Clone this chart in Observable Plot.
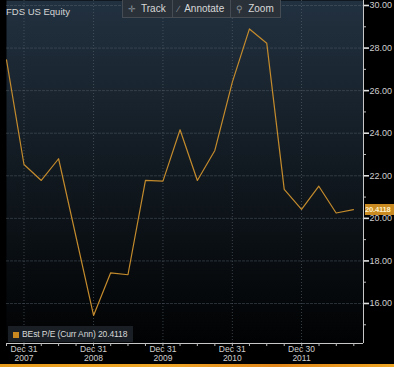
<!DOCTYPE html>
<html><head><meta charset="utf-8">
<script src="https://cdn.jsdelivr.net/npm/d3@7"></script>
<script src="https://cdn.jsdelivr.net/npm/@observablehq/plot@0.6"></script>
<style>
html,body{margin:0;padding:0;background:#000;}
#wrap{position:relative;width:394px;height:367px;overflow:hidden;background:#000;font-family:"Liberation Sans",Arial,sans-serif;}
#wrap svg{position:absolute;left:0;top:0;}
.ov{position:absolute;white-space:nowrap;}
#title{left:6px;top:6px;font-size:9.5px;color:#d4d4d4;}
#toolbar{left:122px;top:-1px;height:17px;display:flex;gap:1px;background:#454c54;border:1px solid #454c54;}
#toolbar div{background:#2a3139;color:#d8d8d8;font-size:10px;line-height:17px;padding:0 6px 0 5px;}
#toolbar span{color:#8c939b;margin-right:5px;font-size:9px;}
#legend{left:8px;top:326px;width:125px;height:16px;background:#1a1f25;font-size:8.5px;color:#d8d8d8;line-height:16px;letter-spacing:-0.1px;}
#legend i{display:inline-block;width:6px;height:6px;background:#c8871f;margin:0 3px 0 5px;vertical-align:-0.5px;}
#strip{left:0;top:364px;width:394px;height:3px;background:linear-gradient(90deg,#e79b1c,#f0a828 40%,#e1861a 70%,#eea524);}
#lastlab{left:365px;width:29px;height:11px;background:#c98a22;color:#fff1c8;font-size:7.6px;font-weight:bold;line-height:11px;padding-left:0px;letter-spacing:-0.2px;overflow:hidden;}
</style></head><body><div id="wrap"></div>
<script>
const dates = ["2007-09-30","2007-12-31","2008-03-31","2008-06-30","2008-12-31","2009-03-31","2009-06-30","2009-09-30","2009-12-31","2010-03-31","2010-06-30","2010-09-30","2010-12-31","2011-03-31","2011-06-30","2011-09-30","2011-12-30","2012-03-30","2012-06-29","2012-09-28"];
const values = [27.45,22.53,21.78,22.80,15.44,17.44,17.35,21.78,21.75,24.16,21.78,23.19,26.40,28.90,28.23,21.36,20.42,21.51,20.25,20.4118];
const yMajorTicks = [16,18,20,22,24,26,28,30];
const yMinorTicks = [15,17,19,21,23,25,27,29];
const xLabelDates = ["2007-12-31","2008-12-31","2009-12-31","2010-12-31","2011-12-30"];
const xLabelTexts = ["Dec 31\n2007","Dec 31\n2008","Dec 31\n2009","Dec 31\n2010","Dec 30\n2011"];
const xDomain = ["2007-09-30","2012-11-20"];
const yDomain = [14.12, 30.235];
const titleText = "FDS US Equity";
const seriesName = "BEst P/E (Curr Ann)";
const lastValue = 20.4118;
const toolbarItems = [["\u271B","Track"],["\u2215","Annotate"],["\u26B2","Zoom"]];

const data = dates.map((d,i)=>({date:new Date(d), value:values[i]}));
const xd = xDomain.map(d=>new Date(d));
const quarterTicks = d3.utcMonth.range(new Date("2007-10-01"), new Date("2012-11-01"), 3).map(d=>d3.utcDay.offset(d,-1));

const plot = Plot.plot({
  width: 394, height: 367,
  marginLeft: 6, marginRight: 31, marginTop: 0, marginBottom: 24,
  style: {background:"transparent", fontFamily:"'Liberation Sans',Arial,sans-serif", color:"#d0d0d0", overflow:"visible"},
  x: {type:"utc", domain: xd, axis: null},
  y: {domain: yDomain, axis: null},
  marks: [
    Plot.frame({fill:"url(#bg)", stroke:null}),
    Plot.gridY(yMajorTicks, {stroke:"#56616c", strokeOpacity:0.45, strokeDasharray:"3,1"}),
    Plot.gridX(xLabelDates.map(d=>new Date(d)), {stroke:"#5a6570", strokeOpacity:0.6, strokeDasharray:"1,2"}),
    Plot.line(data, {x:"date", y:"value", stroke:"#c48b2c", strokeWidth:1.2}),
    Plot.ruleX([xd[1]], {stroke:"#c8c8c8"}),
    Plot.ruleY([yDomain[0]], {stroke:"#c8c8c8"}),
    Plot.axisY({ticks:yMajorTicks, anchor:"right", tickSize:5, tickPadding:1, strokeWidth:1.6, stroke:"#e0e0e0", fill:"#cfcfcf", fontSize:9, tickFormat:d=>d.toFixed(2), label:null}),
    Plot.axisY({ticks:yMinorTicks, anchor:"right", tickSize:2, stroke:"#bbbbbb", tickFormat:()=>"", label:null}),
    Plot.axisX({ticks:quarterTicks, tickSize:3, stroke:"#bbbbbb", tickFormat:()=>"", label:null}),
    Plot.text(xLabelDates, {x:d=>new Date(d), text:(d,i)=>xLabelTexts[i], frameAnchor:"bottom", lineAnchor:"top", dy:2, fontSize:8.5, fill:"#cfcfcf", lineHeight:1.08})
  ]
});

const svg = d3.select(plot);
const defs = svg.insert("defs", ":first-child");
const g = defs.append("linearGradient").attr("id","bg").attr("x1",0).attr("y1",0).attr("x2",0).attr("y2",1);
g.append("stop").attr("offset","0%").attr("stop-color","#223140");
g.append("stop").attr("offset","50%").attr("stop-color","#111920");
g.append("stop").attr("offset","100%").attr("stop-color","#010203");

const wrap = document.getElementById("wrap");
wrap.appendChild(plot);

function ov(id, html){ const d=document.createElement("div"); d.className="ov"; d.id=id; d.innerHTML=html; wrap.appendChild(d); return d; }
ov("title", titleText);
ov("toolbar", toolbarItems.map(([ic,t])=>`<div><span>${ic}</span>${t}</div>`).join(""));
ov("legend", `<i></i>${seriesName} ${lastValue.toFixed(4)}`);
ov("strip", "");
const ll = ov("lastlab", lastValue.toFixed(4));
ll.style.top = (plot.scale("y").apply(lastValue) - 5.5) + "px";
</script></body></html>
